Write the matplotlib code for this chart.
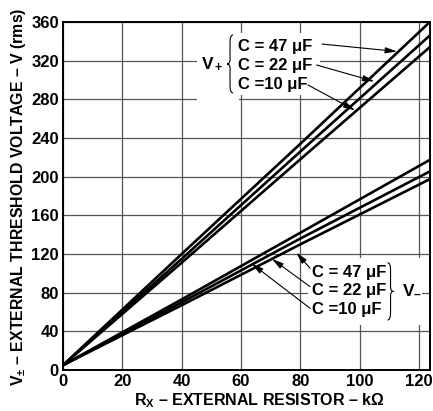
import matplotlib
matplotlib.use("Agg")
import matplotlib.pyplot as plt
from matplotlib.path import Path
from matplotlib.patches import PathPatch, Rectangle

plt.rcParams['font.family'] = ['Liberation Sans', 'DejaVu Sans']
plt.rcParams['font.weight'] = 'bold'
plt.rcParams['mathtext.fontset'] = 'custom'
plt.rcParams['mathtext.rm'] = 'Liberation Sans:bold'
plt.rcParams['mathtext.it'] = 'Liberation Sans:bold'
plt.rcParams['mathtext.bf'] = 'Liberation Sans:bold'
plt.rcParams['mathtext.default'] = 'rm'

# Rx (kOhm) and threshold voltages (V rms)
rx = [0, 40, 80, 124]
v_plus_47 = [5, 120, 234, 361]
v_plus_22 = [5, 115, 226, 347]
v_plus_10 = [5, 111, 218, 335]
v_minus_47 = [5, 73, 142, 218]
v_minus_22 = [5, 70, 136, 206]
v_minus_10 = [5, 67, 130, 198]

x_ticks = [0, 20, 40, 60, 80, 100, 120]
y_ticks = [0, 40, 80, 120, 160, 200, 240, 280, 320, 360]
cap_labels = ["C = 47 μF", "C = 22 μF", "C =10 μF"]


def brace(ax, x, y0, y1, w, side):
    # side=+1 -> "{" (tip on the left), side=-1 -> "}" (tip on the right)
    ym = (y0 + y1) / 2
    h = y1 - y0
    xm = x - side * w / 2
    xt = x - side * w
    verts = [(x, y1), (xm, y1), (xm, y1 - 0.12 * h), (xm, ym + 0.08 * h),
             (xm, ym), (xt, ym), (xm, ym), (xm, ym - 0.08 * h),
             (xm, y0 + 0.12 * h), (xm, y0), (x, y0)]
    codes = [Path.MOVETO, Path.CURVE3, Path.CURVE3, Path.LINETO,
             Path.CURVE3, Path.CURVE3, Path.CURVE3, Path.CURVE3,
             Path.LINETO, Path.CURVE3, Path.CURVE3]
    ax.add_patch(PathPatch(Path(verts, codes), fc='none', ec='black', lw=0.8, zorder=3))


fig = plt.figure(figsize=(4.33, 4.11), dpi=100)
ax = fig.add_axes([63 / 433, 1 - 370 / 411, 367 / 433, 348 / 411])

for v in [v_plus_47, v_plus_22, v_plus_10, v_minus_47, v_minus_22, v_minus_10]:
    ax.plot(rx, v, color='black', lw=1.9, solid_capstyle='butt', zorder=2)

ax.set_xlim(0, 123.7)
ax.set_ylim(0, 360)
ax.set_xticks(x_ticks)
ax.set_yticks(y_ticks)
ax.tick_params(length=0, labelsize=12, pad=3)
ax.set_axisbelow(True)
ax.grid(True, color='#555555', lw=0.9)
for s in ax.spines.values():
    s.set_linewidth(1.4)

ax.set_xlabel("R$_X$ – EXTERNAL RESISTOR – kΩ", fontsize=11.5, fontweight='bold')
ax.xaxis.set_label_coords(0.534, -0.062)
ax.set_ylabel("V$_{\\pm}$ – EXTERNAL THRESHOLD VOLTAGE – V (rms)", fontsize=11.4, fontweight='bold')
ax.yaxis.set_label_coords(-0.095, 0.497)

# white boxes behind the annotations
ax.add_patch(Rectangle((45.2, 275.5), 14.2, 73.5, fc='white', ec='none', zorder=1.5))
ax.add_patch(Rectangle((58.7, 284.3), 28.0, 64.7, fc='white', ec='none', zorder=1.5))
ax.add_patch(Rectangle((82.6, 46.5), 38.4, 69.4, fc='white', ec='none', zorder=1.5))

# V+ group
up_y = [334.5, 314.8, 295.6]
for lab, y in zip(cap_labels, up_y):
    ax.text(59.0, y, lab, fontsize=12, ha='left', va='center', zorder=3)
ax.text(46.5, 316.6, "V$_+$", fontsize=12.5, ha='left', va='center', zorder=3)
brace(ax, 57.3, 286.6, 346.6, 2.0, +1)
arr = dict(arrowstyle='-|>,head_length=0.7,head_width=0.18', color='black', lw=0.8,
           shrinkA=0, shrinkB=0)
for start, end in [((87.3, 337.2), (112.6, 329.5)),
                   ((85.5, 315.5), (105.0, 298.5)),
                   ((82.6, 294.8), (98.5, 268.5))]:
    ax.annotate("", xy=end, xytext=start, arrowprops=arr, zorder=3)

# V- group
lo_y = [101.1, 82.0, 63.1]
for lab, y in zip(cap_labels, lo_y):
    ax.text(83.9, y, lab, fontsize=12, ha='left', va='center', zorder=3)
ax.text(114.4, 82.8, "V$_{–}$", fontsize=12.5, ha='left', va='center', zorder=3)
brace(ax, 109.4, 51.7, 111.0, 2.0, -1)
for start, end in [((83.3, 105.2), (78.6, 121.5)),
                   ((83.3, 86.2), (70.4, 115.0)),
                   ((83.3, 63.8), (63.6, 110.0))]:
    ax.annotate("", xy=end, xytext=start, arrowprops=arr, zorder=3)

fig.savefig("out.png", dpi=100)
